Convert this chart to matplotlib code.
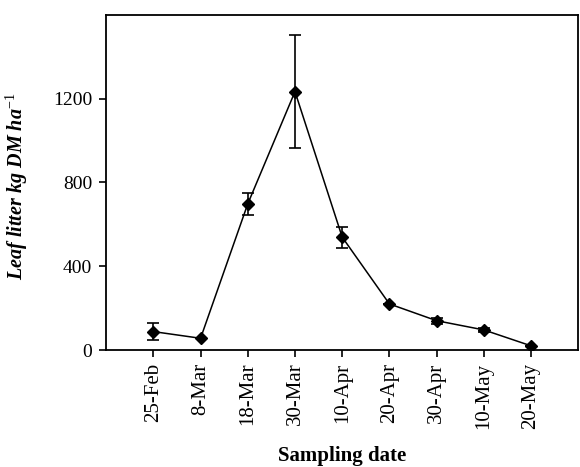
import matplotlib
matplotlib.use("Agg")
import matplotlib.pyplot as plt

dates = ["25-Feb", "8-Mar", "18-Mar", "30-Mar", "10-Apr", "20-Apr", "30-Apr", "10-May", "20-May"]
litter = [88, 56, 698, 1234, 539, 220, 140, 96, 20]
litter_se = [40, 0, 53, 270, 50, 0, 15, 10, 0]

plt.rcParams['font.family'] = ['Liberation Serif', 'DejaVu Serif']
plt.rcParams['mathtext.fontset'] = 'custom'
plt.rcParams['mathtext.rm'] = 'Liberation Serif'
plt.rcParams['mathtext.it'] = 'Liberation Serif:italic'
plt.rcParams['mathtext.bf'] = 'Liberation Serif:bold'

fig = plt.figure(figsize=(5.8, 4.67), dpi=100)
ax = fig.add_axes([0.183, 0.2505, 0.814, 0.7175])

x = list(range(1, len(dates) + 1))
ax.errorbar(x, litter, yerr=litter_se, color='black', lw=1.1, marker='D',
            markersize=6.5, capsize=4, elinewidth=1.2, capthick=1.2)

ax.set_xlim(0, 10)
ax.set_ylim(0, 1600)
ax.set_yticks([0, 400, 800, 1200])
ax.set_xticks(x)
ax.set_xticklabels(dates, rotation=90, fontsize=15)
ax.tick_params(axis='y', labelsize=14, direction='out', length=5, width=1.2, pad=5)
ax.tick_params(axis='x', direction='out', length=5, width=1.2, pad=4)
for s in ax.spines.values():
    s.set_linewidth(1.3)

ax.set_ylabel(r"Leaf litter kg DM ha$^{\mathrm{-1}}$", fontsize=14.5, fontweight='bold',
              fontstyle='italic')
ax.yaxis.label.set_va('center')
ax.yaxis.set_label_coords(-0.188, 0.49)

ax.set_xlabel("Sampling date", fontsize=15, fontweight='bold')
ax.xaxis.label.set_va('baseline')
ax.xaxis.set_label_coords(0.5, -0.330)

fig.savefig("out.png", dpi=100)
